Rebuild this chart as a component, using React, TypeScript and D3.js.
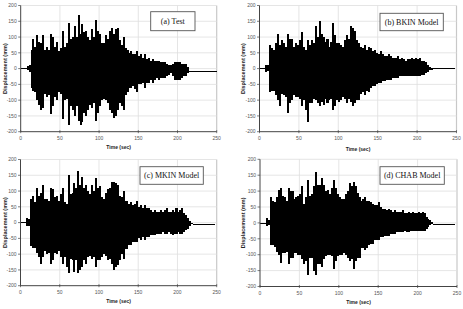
import React from "react";
import * as d3 from "d3";

// Sample times (sec)
const TIME = [
  0, 2.5, 5, 7.5, 10, 12.5, 15, 17.5, 20, 22.5, 25, 27.5, 30, 32.5, 35, 37.5, 40, 42.5, 45, 47.5,
  50, 52.5, 55, 57.5, 60, 62.5, 65, 67.5, 70, 72.5, 75, 77.5, 80, 82.5, 85, 87.5, 90, 92.5, 95, 97.5,
  100, 102.5, 105, 107.5, 110, 112.5, 115, 117.5, 120, 122.5, 125, 127.5, 130, 132.5, 135, 137.5, 140, 142.5, 145, 147.5,
  150, 152.5, 155, 157.5, 160, 162.5, 165, 167.5, 170, 172.5, 175, 177.5, 180, 182.5, 185, 187.5, 190, 192.5, 195, 197.5,
  200, 202.5, 205, 207.5, 210, 212.5, 215, 217.5, 220, 222.5, 225, 227.5, 230, 232.5, 235, 237.5, 240, 242.5, 245, 247.5,
];

// (a) Test — positive / negative displacement peaks (mm)
const TEST_UP = [
  3, 3, 3, 8, 12, 60, 95, 70, 105, 85, 80, 105, 60, 70, 60, 110, 100, 70, 85, 55,
  65, 120, 70, 80, 145, 95, 100, 135, 100, 170, 110, 140, 115, 120, 100, 90, 125, 100, 155, 120,
  110, 80, 80, 105, 95, 120, 130, 110, 125, 130, 90, 75, 100, 65, 60, 50, 55, 45, 45, 55,
  40, 45, 35, 45, 30, 35, 25, 30, 25, 25, 25, 20, 20, 20, 15, 12, 10, 15, 20, 20,
  22, 20, 15, 15, 15, 5, -9, -9, -9, -9, -9, -9, -9, -9, -9, -9, -9, -9, -9, -9,
];
const TEST_LO = [
  0, 0, 0, -5, -10, -60, -70, -75, -100, -115, -130, -125, -80, -90, -85, -145, -120, -90, -100, -75,
  -80, -160, -100, -95, -180, -120, -130, -150, -120, -165, -180, -170, -140, -150, -130, -115, -125, -110, -165, -140,
  -120, -100, -95, -100, -110, -130, -140, -155, -150, -130, -110, -120, -130, -85, -75, -60, -60, -55, -65, -75,
  -50, -50, -45, -60, -45, -45, -35, -45, -35, -30, -35, -30, -30, -30, -25, -20, -15, -25, -35, -35,
  -35, -35, -30, -25, -25, -15, -11, -11, -11, -11, -11, -11, -11, -11, -11, -11, -11, -11, -11, -11,
];

// (b) BKIN Model
const BKIN_UP = [
  1, 1, 1, 12, 10, 75, 65, 60, 80, 110, 75, 90, 80, 70, 110, 95, 95, 70, 80, 75,
  90, 115, 70, 60, 90, 75, 90, 80, 135, 100, 150, 110, 100, 85, 95, 70, 85, 145, 105, 80,
  80, 75, 70, 90, 105, 95, 135, 130, 120, 90, 80, 70, 65, 75, 60, 70, 65, 55, 60, 50,
  45, 55, 45, 40, 40, 45, 40, 35, 35, 35, 40, 30, 35, 30, 25, 30, 30, 35, 30, 35,
  30, 35, 25, 25, 20, 12, 5, 3, 1, 1, 1, 1, 1, 1, 1, 1, 1, 1, 1, null,
];
const BKIN_LO = [
  -1, -1, -1, -10, -8, -75, -70, -70, -85, -100, -120, -80, -85, -90, -140, -110, -100, -85, -90, -90,
  -95, -120, -100, -130, -170, -110, -110, -95, -100, -110, -120, -105, -115, -95, -110, -100, -95, -130, -120, -100,
  -105, -100, -90, -95, -110, -95, -105, -120, -110, -100, -100, -80, -75, -85, -70, -75, -60, -55, -55, -50,
  -45, -45, -40, -40, -35, -35, -35, -30, -30, -30, -30, -25, -25, -25, -25, -25, -25, -25, -25, -25,
  -25, -25, -20, -20, -15, -10, -5, -3, 0, 0, 0, 0, 0, 0, 0, 0, 0, 0, 0, null,
];

// (c) MKIN Model
const MKIN_UP = [
  1, 1, 1, 15, 10, 75, 85, 65, 110, 85, 95, 120, 75, 75, 70, 110, 105, 80, 85, 70,
  90, 110, 65, 60, 150, 90, 95, 125, 110, 165, 120, 145, 110, 120, 100, 90, 120, 100, 140, 110,
  115, 80, 75, 95, 105, 110, 130, 130, 125, 120, 85, 80, 100, 70, 70, 60, 65, 55, 60, 70,
  50, 55, 45, 55, 45, 45, 40, 35, 40, 35, 35, 40, 35, 40, 45, 35, 35, 40, 35, 45,
  35, 40, 45, 30, 25, 15, 5, -2, -3, -3, -3, -3, -3, -3, -3, -3, -3, -3, -3, null,
];
const MKIN_LO = [
  -1, -1, -1, -10, -10, -75, -80, -80, -95, -110, -130, -110, -90, -100, -95, -130, -120, -95, -100, -90,
  -110, -130, -110, -140, -160, -115, -120, -155, -120, -160, -150, -140, -120, -130, -110, -105, -115, -110, -140, -120,
  -120, -110, -100, -105, -120, -115, -130, -150, -140, -135, -120, -100, -115, -85, -85, -70, -70, -60, -60, -60,
  -50, -55, -45, -55, -45, -45, -40, -40, -40, -35, -35, -35, -30, -35, -35, -30, -35, -40, -35, -35,
  -30, -35, -35, -30, -25, -20, -10, -6, -5, -5, -5, -5, -5, -5, -5, -5, -5, -5, -5, null,
];

// (d) CHAB Model
const CHAB_UP = [
  1, 1, 1, 15, 10, 80, 70, 65, 80, 105, 110, 85, 80, 70, 110, 100, 100, 75, 80, 85,
  90, 115, 60, 80, 135, 85, 90, 115, 160, 120, 120, 140, 120, 100, 105, 90, 110, 135, 110, 90,
  80, 75, 75, 90, 100, 125, 115, 130, 115, 95, 80, 70, 75, 80, 70, 70, 65, 60, 55, 55,
  65, 50, 45, 45, 40, 45, 40, 35, 40, 35, 35, 35, 40, 30, 30, 35, 30, 35, 30, 30,
  35, 30, 35, 30, 20, 12, 8, 2, -2, -2, -2, -2, -2, -2, -2, -2, -2, -2, -2, null,
];
const CHAB_LO = [
  -1, -1, -1, -10, -8, -70, -70, -75, -90, -100, -125, -95, -95, -90, -130, -110, -110, -95, -95, -100,
  -100, -115, -130, -120, -165, -110, -110, -150, -165, -130, -130, -140, -115, -105, -100, -100, -105, -145, -120, -105,
  -100, -100, -95, -100, -110, -120, -115, -145, -120, -110, -110, -80, -80, -85, -80, -70, -65, -65, -55, -55,
  -55, -45, -45, -40, -40, -40, -35, -35, -35, -30, -30, -30, -30, -25, -30, -30, -25, -25, -25, -25,
  -25, -25, -25, -25, -20, -12, -8, -4, -3, -3, -3, -3, -3, -3, -3, -3, -3, -3, -3, null,
];

const X_TICKS = [0, 50, 100, 150, 200, 250];
const Y_TICKS = [200, 150, 100, 50, 0, -50, -100, -150, -200];
const X_TITLE = "Time (sec)";
const Y_TITLE = "Displacement (mm)";

type Layout = {
  x0: number; x1: number; yTop: number; yBot: number;
  lx: number; ly: number; lw: number; lh: number;
  titleX: number; timeY: number;
};

const PANELS: { label: string; up: (number | null)[]; lo: (number | null)[]; L: Layout }[] = [
  { label: "(a) Test", up: TEST_UP, lo: TEST_LO,
    L: { x0: 20.7, x1: 216.7, yTop: 5.5, yBot: 131.7, lx: 150.7, ly: 11.7, lw: 44.3, lh: 19, titleX: 5, timeY: 148.5 } },
  { label: "(b) BKIN Model", up: BKIN_UP, lo: BKIN_LO,
    L: { x0: 259.5, x1: 456.5, yTop: 5.5, yBot: 131.7, lx: 380, ly: 13.3, lw: 63.3, lh: 17.4, titleX: 243, timeY: 150.5 } },
  { label: "(c) MKIN Model", up: MKIN_UP, lo: MKIN_LO,
    L: { x0: 20.5, x1: 216.7, yTop: 159.5, yBot: 285.7, lx: 140, ly: 166.7, lw: 63.3, lh: 17.6, titleX: 5, timeY: 303 } },
  { label: "(d) CHAB Model", up: CHAB_UP, lo: CHAB_LO,
    L: { x0: 260, x1: 457, yTop: 159.3, yBot: 286.5, lx: 380, ly: 166.7, lw: 64.3, lh: 17.6, titleX: 243, timeY: 304 } },
];

type Row = { t: number; u: number; l: number };

function Panel({ label, up, lo, L }: { label: string; up: (number | null)[]; lo: (number | null)[]; L: Layout }) {
  const x = d3.scaleLinear().domain([0, 250]).range([L.x0, L.x1]);
  const y = d3.scaleLinear().domain([-200, 200]).range([L.yBot, L.yTop]);
  const rows: Row[] = [];
  TIME.forEach((t, i) => {
    const u = up[i];
    const l = lo[i];
    if (u == null || l == null) return;
    rows.push({ t, u, l });
  });
  const step = 2.5;
  const bw = x(step) - x(0);
  const sans = "'Liberation Sans', Arial, sans-serif";
  return (
    <g>
      {X_TICKS.filter((v) => v > 0).map((v) => (
        <line key={"gx" + v} x1={x(v)} x2={x(v)} y1={L.yTop} y2={L.yBot}
          stroke={v === 250 ? "#c8c8c8" : "#dedede"} strokeWidth={v === 250 ? 1.2 : 0.8} />
      ))}
      {Y_TICKS.filter((v) => v > -200).map((v) => (
        <line key={"gy" + v} x1={L.x0} x2={L.x1} y1={y(v)} y2={y(v)} stroke="#dedede" strokeWidth={0.8} />
      ))}
      <g shapeRendering="crispEdges">
        {rows.map((d) => (
          <rect key={d.t} x={x(d.t)} width={bw + 0.05} y={y(d.u)} height={Math.max(1, y(d.l) - y(d.u))} fill="#000" />
        ))}
      </g>
      <line x1={L.x0} x2={L.x0} y1={L.yTop} y2={L.yBot} stroke="#444" strokeWidth={1} />
      <line x1={L.x0} x2={L.x1} y1={L.yBot} y2={L.yBot} stroke="#444" strokeWidth={1} />
      {Y_TICKS.map((v) => (
        <g key={"ty" + v}>
          <line x1={L.x0 - 2.5} x2={L.x0} y1={y(v)} y2={y(v)} stroke="#444" strokeWidth={0.7} />
          <text x={L.x0 - 4} y={y(v)} dy="0.35em" textAnchor="end" fontSize={5} fill="#555" fontFamily={sans}>{v}</text>
        </g>
      ))}
      {X_TICKS.map((v) => (
        <g key={"tx" + v}>
          <line x1={x(v)} x2={x(v)} y1={L.yBot - 1.5} y2={L.yBot + 1.5} stroke="#444" strokeWidth={0.7} />
          <text x={x(v)} y={L.yBot + 8} textAnchor="middle" fontSize={5} fill="#555" fontFamily={sans}>{v}</text>
        </g>
      ))}
      <text x={(L.x0 + L.x1) / 2} y={L.timeY} textAnchor="middle" fontSize={5} fontWeight="bold" fill="#222" fontFamily={sans}>{X_TITLE}</text>
      <text transform={`translate(${L.titleX},${(L.yTop + L.yBot) / 2}) rotate(-90)`} textAnchor="middle" dy="0.35em"
        fontSize={5.5} fontWeight="bold" fill="#222" fontFamily={sans}>{Y_TITLE}</text>
      <rect x={L.lx} y={L.ly} width={L.lw} height={L.lh} fill="#fff" stroke="#555" strokeWidth={0.9} />
      <text x={L.lx + L.lw / 2} y={L.ly + L.lh / 2} dy="0.35em" textAnchor="middle" fontSize={8}
        fill="#111" fontFamily="'Liberation Serif', 'Times New Roman', serif">{label}</text>
    </g>
  );
}

export default function App() {
  return (
    <svg width={463} height={309} style={{ position: "absolute", left: 0, top: 0, background: "#fff" }}>
      <rect x={0} y={0} width={463} height={309} fill="#fff" />
      {PANELS.map((p) => (
        <Panel key={p.label} {...p} />
      ))}
    </svg>
  );
}
